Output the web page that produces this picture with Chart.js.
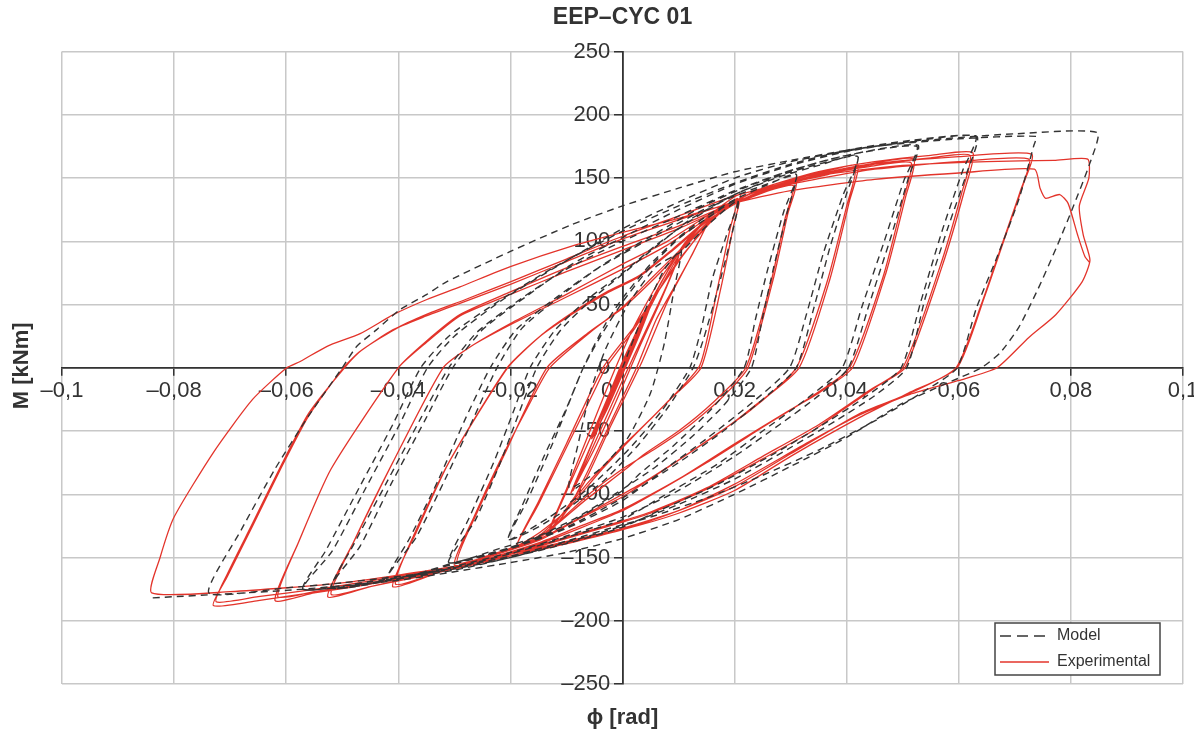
<!DOCTYPE html>
<html>
<head>
<meta charset="utf-8">
<title>EEP–CYC 01</title>
<script src="https://cdn.jsdelivr.net/npm/chart.js@4.4.1/dist/chart.umd.min.js"></script>
<style>
  html, body { margin: 0; padding: 0; background: #fff; }
  #wrap { width: 1194px; height: 731px; position: relative; }
</style>
</head>
<body>
<div id="wrap"><canvas id="hystChart"></canvas></div>
<script>
// tick values
const xTickValues = [-0.1, -0.08, -0.06, -0.04, -0.02, 0, 0.02, 0.04, 0.06, 0.08, 0.1];
const yTickValues = [-250, -200, -150, -100, -50, 0, 50, 100, 150, 200, 250];

const chartTitle = 'EEP–CYC 01';
const xTitle = 'ϕ [rad]';
const yTitle = 'M [kNm]';
const seriesNames = ['Model', 'Experimental'];

// experimental record, one array per amplitude level, points are [phi (rad), M (kNm)]
const expLevel05 = [
  [0, 0], [0.0025, 27], [0.005, 50], [0.003, 28], [0, -3], [-0.0025, -30], [-0.0052, -54],
  [-0.003, -30], [0, 2], [0.0025, 28], [0.0052, 52], [0.003, 26], [0, -5], [-0.003, -35], [-0.0055, -56]
];
const expLevel10 = [
  [-0.003, -28], [0, 5], [0.004, 42], [0.0075, 72], [0.0103, 93], [0.008, 66], [0.004, 28], [0, -10],
  [-0.004, -50], [-0.0088, -97], [-0.006, -66], [-0.002, -22], [0.002, 20], [0.006, 57], [0.0101, 89],
  [0.007, 55], [0.003, 16], [-0.001, -25], [-0.005, -64], [-0.0092, -99]
];
const expLevel15 = [
  [-0.005, -55], [-0.001, -10], [0.003, 32], [0.007, 68], [0.011, 98], [0.0157, 121],
  [0.0126, 91], [0.009, 62], [0.006, 38], [0.0025, 0], [-0.002, -42], [-0.006, -80], [-0.0095, -110], [-0.0132, -131],
  [-0.009, -88], [-0.004, -38], [0, 4], [0.004, 43], [0.008, 76], [0.012, 103], [0.0155, 118],
  [0.012, 86], [0.008, 52], [0.0035, 5], [-0.002, -45], [-0.007, -92], [-0.013, -128]
];
const expLevel20 = [
  [-0.010, -96], [-0.006, -52], [-0.002, -8], [0.002, 32], [0.007, 72], [0.012, 102], [0.0165, 124], [0.021, 137],
  [0.0198, 112], [0.0175, 62], [0.014, 0], [0.0085, -25], [0.0026, -51], [0, -62], [-0.006, -90], [-0.011, -117], [-0.0147, -132], [-0.019, -142],
  [-0.015, -108], [-0.010, -63], [-0.005, -18], [-0.003, 0], [0.002, 30], [0.006, 58], [0.010, 85], [0.0155, 114], [0.0205, 134],
  [0.0192, 110], [0.017, 64], [0.0138, 2], [0.008, -27], [0.002, -54], [-0.004, -82], [-0.010, -113], [-0.0147, -130], [-0.0188, -140]
];
const expLevel30 = [
  [-0.015, -106], [-0.010, -60], [-0.0035, 0], [0.002, 32], [0.006, 58], [0.011, 90], [0.0165, 120], [0.021, 134], [0.026, 142], [0.031, 147],
  [0.0295, 122], [0.027, 72], [0.0224, 0], [0.0174, -25], [0.0115, -47], [0.0055, -65], [0, -80], [-0.006, -100], [-0.011, -120], [-0.0147, -133], [-0.022, -146], [-0.030, -156],
  [-0.0265, -118], [-0.022, -75], [-0.017, -32], [-0.013, 0], [-0.0058, 28], [0, 48], [0.005, 70], [0.010, 92], [0.0157, 117], [0.021, 132], [0.026, 140], [0.0305, 144],
  [0.029, 118], [0.0265, 68], [0.022, 0], [0.016, -28], [0.010, -50], [0.004, -68], [0, -82], [-0.007, -106], [-0.0147, -134], [-0.022, -146], [-0.0295, -154]
];
const expLevel40 = [
  [-0.026, -115], [-0.021, -68], [-0.0135, 0], [-0.006, 28], [0, 47], [0.006, 72], [0.011, 95], [0.0165, 120], [0.022, 136], [0.03, 148], [0.036, 155], [0.042, 160],
  [0.0405, 132], [0.037, 70], [0.0315, 0], [0.0233, -31], [0.0174, -51], [0.010, -73], [0.004, -90], [0, -100], [-0.007, -117], [-0.0147, -135], [-0.025, -150], [-0.033, -162], [-0.041, -173],
  [-0.037, -132], [-0.031, -75], [-0.0206, 0], [-0.0147, 25], [-0.0088, 43], [-0.0028, 59], [0.003, 72], [0.009, 93], [0.0157, 118], [0.022, 134], [0.03, 146], [0.036, 152], [0.0415, 157],
  [0.040, 128], [0.0365, 68], [0.031, 0], [0.023, -33], [0.016, -55], [0.008, -79], [0, -102], [-0.008, -120], [-0.0147, -136], [-0.025, -151], [-0.033, -162], [-0.0405, -171]
];
const expLevel50 = [
  [-0.037, -130], [-0.031, -75], [-0.0205, 0], [-0.0147, 25], [-0.0088, 44], [-0.0028, 60], [0.003, 73], [0.009, 94], [0.0165, 122], [0.025, 140], [0.035, 153], [0.044, 161], [0.052, 165],
  [0.0505, 135], [0.047, 75], [0.041, 0], [0.035, -20], [0.030, -33], [0.020, -60], [0.010, -88], [0, -112], [-0.008, -126], [-0.0147, -138], [-0.025, -152], [-0.035, -163], [-0.045, -173], [-0.0526, -181],
  [-0.048, -138], [-0.041, -75], [-0.032, 0], [-0.027, 17], [-0.020, 34], [-0.010, 56], [0, 78], [0.008, 97], [0.0165, 122], [0.025, 140], [0.035, 152], [0.044, 159], [0.0515, 162],
  [0.050, 132], [0.0465, 72], [0.0405, 0], [0.034, -22], [0.025, -47], [0.015, -75], [0.005, -101], [0, -113], [-0.0147, -139], [-0.025, -153], [-0.035, -164], [-0.045, -173], [-0.052, -179]
];
const expLevel60 = [
  [-0.048, -138], [-0.041, -75], [-0.032, 0], [-0.027, 17], [-0.020, 35], [-0.010, 58], [0, 82], [0.008, 100], [0.0165, 124], [0.025, 142], [0.035, 155], [0.045, 163], [0.055, 168], [0.0625, 170],
  [0.061, 140], [0.057, 80], [0.0504, 0], [0.0453, -15], [0.0394, -33], [0.0335, -51], [0.025, -72], [0.015, -96], [0.005, -115], [0, -122], [-0.0147, -141], [-0.03, -159], [-0.045, -171], [-0.055, -178], [-0.062, -184],
  [-0.058, -140], [-0.052, -80], [-0.040, 0], [-0.035, 20], [-0.029, 41], [-0.020, 58], [-0.010, 76], [0, 93], [0.01, 110], [0.018, 126], [0.03, 146], [0.045, 161], [0.055, 166], [0.062, 168],
  [0.0605, 138], [0.0565, 78], [0.050, 0], [0.044, -18], [0.035, -45], [0.025, -70], [0.015, -95], [0.005, -114], [0, -121], [-0.0147, -140], [-0.03, -158], [-0.045, -170], [-0.055, -177], [-0.0615, -181]
];
const expLevel70 = [
  [-0.058, -140], [-0.052, -80], [-0.040, 0], [-0.035, 21], [-0.029, 42], [-0.020, 60], [-0.010, 79], [0, 96], [0.01, 112], [0.018, 127], [0.03, 147], [0.045, 161], [0.06, 167], [0.073, 169],
  [0.0715, 145], [0.068, 100], [0.0645, 55], [0.0597, 0], [0.051, -20], [0.042, -40], [0.030, -70], [0.020, -97], [0.010, -115], [0, -128], [-0.0147, -143], [-0.03, -159], [-0.05, -174], [-0.065, -184], [-0.073, -188],
  [-0.0705, -165], [-0.066, -125], [-0.061, -80], [-0.056, -38], [-0.0498, 0], [-0.0468, 13], [-0.041, 30], [-0.035, 41], [-0.029, 51], [-0.02, 66], [-0.01, 84], [0, 102], [0.01, 117], [0.019, 130], [0.03, 145], [0.045, 157], [0.06, 163], [0.0725, 165],
  [0.071, 140], [0.0675, 95], [0.064, 50], [0.0595, 0], [0.0513, -20], [0.0424, -36], [0.03, -68], [0.02, -94], [0.01, -113], [0, -127], [-0.0147, -142], [-0.03, -157], [-0.05, -172], [-0.065, -181], [-0.0725, -185]
];
const expLevel80 = [
  [-0.0705, -163], [-0.066, -123], [-0.061, -78], [-0.056, -36], [-0.0496, 0], [-0.0465, 14], [-0.040, 32], [-0.034, 44], [-0.028, 54], [-0.02, 68], [-0.01, 86], [0, 104], [0.01, 120], [0.02, 136], [0.035, 152], [0.05, 160], [0.065, 163], [0.077, 164], [0.083, 165],
  [0.0832, 150], [0.0815, 128], [0.0822, 105], [0.0834, 85], [0.082, 68], [0.0773, 42], [0.0725, 24], [0.0668, 0], [0.06, -10], [0.0513, -21], [0.0424, -37], [0.0335, -58], [0.02, -92], [0.01, -113], [0, -128], [-0.0147, -144], [-0.03, -157], [-0.05, -170], [-0.07, -177], [-0.084, -178],
  [-0.0825, -150], [-0.080, -118], [-0.073, -67], [-0.066, -25], [-0.0599, 0], [-0.0575, 5], [-0.0527, 17], [-0.0468, 27], [-0.0409, 42], [-0.0349, 54], [-0.029, 64], [-0.020, 80], [-0.0092, 96], [0, 107], [0.009, 117], [0.017, 127], [0.03, 140], [0.045, 149], [0.06, 154], [0.0735, 157],
  [0.0745, 142], [0.0755, 134], [0.078, 137], [0.0795, 130], [0.0812, 105], [0.0825, 88], [0.0834, 83]
];

// model prediction, same layout
const modelLevel10 = [
  [0, 0], [0.004, 45], [0.0075, 78], [0.0105, 93], [0.0092, 62], [0.0075, 20], [0.005, -20], [0.001, -55], [-0.004, -80], [-0.0095, -95],
  [-0.008, -62], [-0.0058, -20], [-0.003, 15], [0.001, 50], [0.006, 80], [0.0105, 92]
];
const modelLevel20 = [
  [0.015, 112], [0.0206, 132],
  [0.0192, 100], [0.017, 62], [0.0144, 22], [0.0126, 0], [0.008, -32], [0.003, -60], [-0.003, -88], [-0.010, -112], [-0.0155, -127], [-0.0204, -136],
  [-0.018, -110], [-0.014, -70], [-0.010, -32], [-0.007, 0], [-0.0035, 28], [0, 52], [0.005, 80], [0.010, 102], [0.015, 118], [0.0206, 133],
  [0.0185, 104], [0.016, 70], [0.014, 30], [0.012, 0], [0.007, -34], [0.001, -65], [-0.006, -95], [-0.013, -118], [-0.0204, -136]
];
const modelLevel30 = [
  [-0.017, -105], [-0.012, -55], [-0.007, 0], [-0.003, 35], [0, 55], [0.005, 82], [0.010, 103], [0.015, 120], [0.020, 133], [0.025, 143], [0.031, 153],
  [0.0295, 125], [0.027, 80], [0.025, 40], [0.023, 0], [0.018, -30], [0.012, -56], [0.006, -78], [0, -96], [-0.008, -118], [-0.015, -133], [-0.022, -143], [-0.031, -154],
  [-0.0275, -120], [-0.023, -75], [-0.0195, -35], [-0.0165, 0], [-0.012, 30], [-0.006, 55], [0, 75], [0.006, 97], [0.012, 116], [0.018, 132], [0.025, 144], [0.031, 152],
  [0.0288, 124], [0.0258, 76], [0.0237, 38], [0.0217, 0], [0.016, -32], [0.009, -62], [0.003, -84], [0, -97], [-0.010, -124], [-0.020, -142], [-0.031, -154]
];
const modelLevel40 = [
  [-0.0262, -120], [-0.0218, -75], [-0.0153, 0], [-0.011, 30], [-0.005, 56], [0, 74], [0.006, 96], [0.012, 117], [0.020, 137], [0.028, 151], [0.035, 160], [0.042, 168],
  [0.040, 138], [0.037, 95], [0.034, 45], [0.031, 0], [0.025, -25], [0.018, -50], [0.010, -75], [0, -103], [-0.010, -126], [-0.020, -142], [-0.030, -154], [-0.042, -168],
  [-0.038, -135], [-0.033, -90], [-0.028, -40], [-0.0236, 0], [-0.019, 30], [-0.012, 55], [-0.005, 77], [0, 90], [0.007, 107], [0.014, 124], [0.020, 137], [0.028, 152], [0.035, 161], [0.042, 167],
  [0.0393, 136], [0.0358, 90], [0.0328, 42], [0.0298, 0], [0.023, -28], [0.015, -56], [0.007, -82], [0, -105], [-0.010, -127], [-0.020, -143], [-0.030, -155], [-0.042, -167]
];
const modelLevel50 = [
  [-0.0368, -134], [-0.0313, -85], [-0.0268, -42], [-0.0224, 0], [-0.018, 31], [-0.011, 57], [-0.004, 80], [0, 91], [0.007, 109], [0.014, 127], [0.021, 141], [0.030, 156], [0.040, 168], [0.0527, 176],
  [0.051, 150], [0.048, 105], [0.044, 50], [0.0403, 0], [0.035, -22], [0.028, -45], [0.020, -70], [0.010, -97], [0, -118], [-0.010, -133], [-0.020, -146], [-0.030, -157], [-0.040, -166], [-0.0518, -174],
  [-0.048, -140], [-0.042, -90], [-0.036, -40], [-0.031, 0], [-0.026, 28], [-0.018, 55], [-0.010, 78], [0, 100], [0.010, 120], [0.020, 140], [0.030, 156], [0.040, 168], [0.0525, 175],
  [0.0502, 148], [0.0467, 100], [0.0427, 48], [0.0392, 0], [0.033, -24], [0.025, -50], [0.017, -76], [0.007, -102], [0, -120], [-0.010, -134], [-0.020, -147], [-0.030, -158], [-0.040, -167], [-0.052, -174]
];
const modelLevel60 = [
  [-0.0468, -141], [-0.0413, -92], [-0.0353, -42], [-0.0303, 0], [-0.025, 30], [-0.017, 57], [-0.009, 82], [0, 103], [0.010, 125], [0.020, 145], [0.030, 160], [0.040, 171], [0.050, 178], [0.0632, 183],
  [0.0615, 155], [0.058, 110], [0.054, 55], [0.0507, 0], [0.045, -22], [0.038, -42], [0.030, -63], [0.020, -88], [0.010, -108], [0, -125], [-0.010, -138], [-0.020, -150], [-0.030, -159], [-0.045, -169], [-0.057, -175],
  [-0.053, -145], [-0.047, -95], [-0.041, -45], [-0.036, 0], [-0.031, 25], [-0.022, 53], [-0.012, 80], [0, 108], [0.010, 128], [0.020, 146], [0.030, 161], [0.040, 172], [0.050, 179], [0.063, 183],
  [0.0607, 156], [0.0570, 108], [0.0532, 52], [0.0497, 0], [0.043, -24], [0.035, -47], [0.027, -68], [0.017, -92], [0.007, -112], [0, -126], [-0.010, -139], [-0.020, -150], [-0.030, -160], [-0.045, -170], [-0.057, -175]
];
const modelLevel70 = [
  [-0.0518, -145], [-0.0458, -95], [-0.0398, -45], [-0.0348, 0], [-0.030, 25], [-0.021, 55], [-0.011, 82], [0, 110], [0.010, 131], [0.020, 150], [0.030, 163], [0.045, 175], [0.060, 181], [0.0738, 183],
  [0.0734, 176], [0.0707, 133], [0.0666, 85], [0.0632, 48], [0.0597, 0], [0.054, -18], [0.045, -42], [0.035, -65], [0.025, -85], [0.015, -103], [0.005, -118], [0, -124], [-0.010, -137], [-0.020, -149], [-0.035, -162], [-0.050, -170], [-0.060, -174], [-0.0738, -178],
  [-0.068, -128], [-0.062, -80], [-0.056, -38], [-0.050, 0], [-0.0474, 17], [-0.0439, 30], [-0.0397, 46], [-0.0349, 58], [-0.0314, 68], [-0.020, 92], [-0.0092, 113], [0, 128], [0.010, 142], [0.020, 155], [0.030, 164], [0.040, 172], [0.050, 178], [0.060, 182], [0.070, 185], [0.0847, 186]
];
const modelLevel80 = [
  [0.0834, 162], [0.0802, 125], [0.0775, 96], [0.0741, 62], [0.0707, 32], [0.0674, 12], [0.064, 0], [0.058, -12], [0.050, -28], [0.040, -55], [0.030, -78], [0.020, -100], [0.010, -120], [0, -135], [-0.010, -146], [-0.020, -154], [-0.040, -168], [-0.060, -176], [-0.0843, -182]
];

const experimentalLevels = [expLevel05, expLevel10, expLevel15, expLevel20, expLevel30, expLevel40, expLevel50, expLevel60, expLevel70, expLevel80];
const modelLevels = [modelLevel10, modelLevel20, modelLevel30, modelLevel40, modelLevel50, modelLevel60, modelLevel70, modelLevel80];

const toPoints = levels => levels.flat().map(p => ({ x: p[0], y: p[1] }));

const FONT = '"Liberation Sans", Arial, Helvetica, sans-serif';
const RED = '#e3342b';
const DARK = '#333333';

// numbers like the original: decimal comma, dash for minus
function fmt(v) {
  const r = Math.round(v * 1000) / 1000;
  const s = String(Math.abs(r)).replace('.', ',');
  return (r < 0 ? '\u2013' : '') + s;
}

// axis titles and the boxed legend
const decorPlugin = {
  id: 'decor',
  afterDraw(chart) {
    const ctx = chart.ctx;
    const a = chart.chartArea;
    ctx.save();
    ctx.fillStyle = DARK;
    ctx.font = 'bold 22px ' + FONT;
    ctx.textAlign = 'center';
    ctx.textBaseline = 'middle';
    ctx.fillText(xTitle, (a.left + a.right) / 2, a.bottom + 34);
    ctx.save();
    ctx.translate(22, (a.top + a.bottom) / 2 - 2);
    ctx.rotate(-Math.PI / 2);
    ctx.fillText(yTitle, 0, 0);
    ctx.restore();

    // legend box
    const bx = a.right - 188, by = a.bottom - 61, bw = 165, bh = 52;
    ctx.fillStyle = '#fff';
    ctx.fillRect(bx, by, bw, bh);
    ctx.strokeStyle = '#444';
    ctx.lineWidth = 1.5;
    ctx.strokeRect(bx, by, bw, bh);

    ctx.lineWidth = 1.5;
    ctx.strokeStyle = DARK;
    ctx.setLineDash([11, 6]);
    ctx.beginPath();
    ctx.moveTo(bx + 5, by + 13);
    ctx.lineTo(bx + 54, by + 13);
    ctx.stroke();
    ctx.setLineDash([]);
    ctx.strokeStyle = RED;
    ctx.beginPath();
    ctx.moveTo(bx + 5, by + 39);
    ctx.lineTo(bx + 54, by + 39);
    ctx.stroke();

    ctx.fillStyle = DARK;
    ctx.font = '16px ' + FONT;
    ctx.textAlign = 'left';
    ctx.fillText(seriesNames[0], bx + 62, by + 13);
    ctx.fillText(seriesNames[1], bx + 62, by + 39);
    ctx.restore();
  }
};

const ctx = document.getElementById('hystChart').getContext('2d');
const hystChart = new Chart(ctx, {
  type: 'scatter',
  data: {
    datasets: [{
      label: seriesNames[0],
      data: toPoints(modelLevels),
      showLine: true,
      borderColor: DARK,
      borderWidth: 1.4,
      borderDash: [7, 5],
      pointRadius: 0,
      tension: 0.2,
      order: 0
    }, {
      label: seriesNames[1],
      data: toPoints(experimentalLevels),
      showLine: true,
      borderColor: RED,
      borderWidth: 1.3,
      pointRadius: 0,
      tension: 0.2,
      order: 1
    }]
  },
  options: {
    responsive: true,
    maintainAspectRatio: false,
    animation: false,
    layout: { padding: { left: 62, right: 11, top: 0, bottom: 47 } },
    plugins: {
      legend: { display: false },
      tooltip: { enabled: false },
      title: {
        display: true,
        text: chartTitle,
        fullSize: false,
        color: DARK,
        font: { family: FONT, size: 23, weight: 'bold' },
        padding: { top: 4, bottom: 20 }
      }
    },
    scales: {
      x: {
        type: 'linear',
        min: -0.1,
        max: 0.1,
        position: { y: 0 },
        afterBuildTicks: scale => { scale.ticks = xTickValues.map(v => ({ value: v })); },
        afterFit: scale => { scale.paddingLeft = 0; scale.paddingRight = 0; },
        grid: { color: '#c8c8c8', lineWidth: 1.5, tickColor: DARK, tickLength: 7, tickWidth: 1.5 },
        border: { color: DARK, width: 1.8 },
        ticks: {
          color: DARK,
          font: { family: FONT, size: 22 },
          padding: 3,
          maxRotation: 0,
          autoSkip: false,
          callback: v => (v === 0 ? '0     ' : fmt(v))
        }
      },
      y: {
        type: 'linear',
        min: -250,
        max: 250,
        position: { x: 0 },
        afterBuildTicks: scale => { scale.ticks = yTickValues.map(v => ({ value: v })); },
        grid: { color: '#c8c8c8', lineWidth: 1.5, tickColor: DARK, tickLength: 8, tickWidth: 1.5 },
        border: { color: DARK, width: 1.8 },
        ticks: {
          color: DARK,
          font: { family: FONT, size: 22 },
          autoSkip: false,
          callback: v => fmt(v) + '  '
        }
      }
    }
  },
  plugins: [decorPlugin]
});
</script>
</body>
</html>
